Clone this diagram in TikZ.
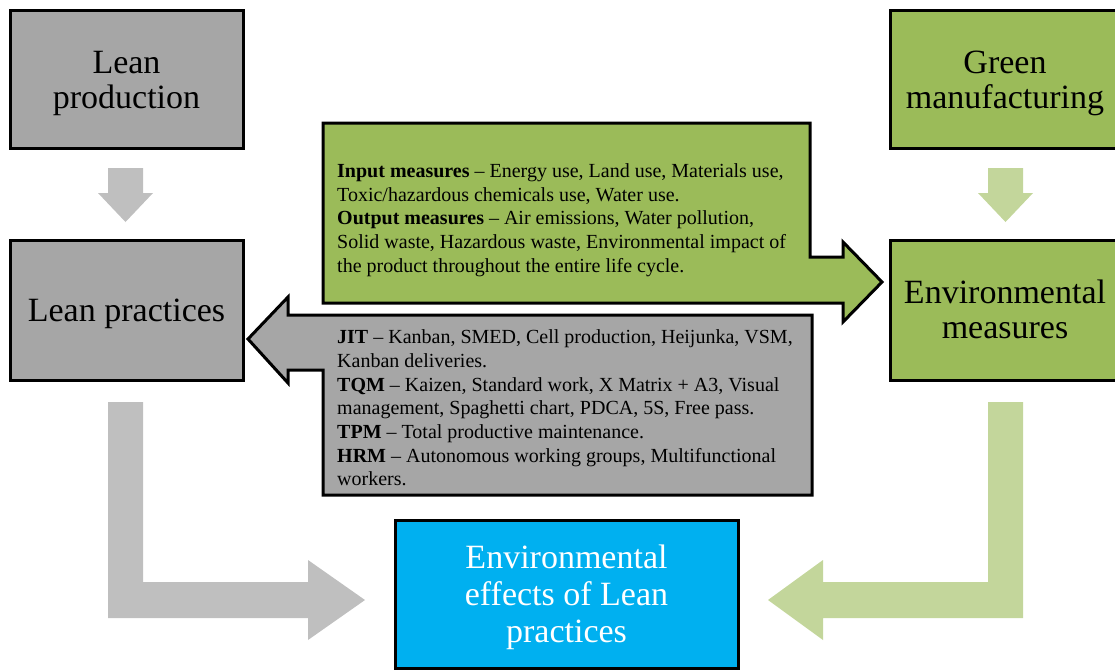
\documentclass[tikz,border=0pt]{standalone}
\usepackage{fontspec}
\setmainfont{Liberation Serif}
\definecolor{boxgray}{HTML}{A6A6A6}
\definecolor{boxgreen}{HTML}{9BBB59}
\definecolor{boxblue}{HTML}{00B0F0}
\definecolor{arrgray}{HTML}{BFBFBF}
\definecolor{arrgreen}{HTML}{C3D69B}
\begin{document}
\begin{tikzpicture}[x=1pt,y=-1pt,
  bigbox/.style={draw=black,line width=3pt,inner sep=0pt},
  boxtext/.style={align=center,inner sep=0pt,yshift=-4pt,
    font=\fontsize{34}{35}\selectfont},
  callout/.style={draw=black,line width=3pt,line join=miter},
  calltext/.style={inner sep=0pt,align=left,anchor=west,
    font=\fontsize{20}{23.7}\selectfont}]
\useasboundingbox (0,0) rectangle (1115,670);
% boxes
\node[bigbox,fill=boxgray,minimum width=233pt,minimum height=138pt,
  label={[boxtext]center:Lean\\production}] (lp) at (126.5,79) {};
\node[bigbox,fill=boxgreen,minimum width=230pt,minimum height=138pt,
  label={[boxtext]center:Green\\manufacturing}] (gm) at (1005,79) {};
\node[bigbox,fill=boxgray,minimum width=233pt,minimum height=140pt,
  label={[boxtext]center:Lean practices}] (lpr) at (126.5,310) {};
\node[bigbox,fill=boxgreen,minimum width=230pt,minimum height=140pt,
  label={[boxtext,yshift=4.5pt]center:Environmental\\measures}] (em) at (1005,310) {};
\node[bigbox,fill=boxblue,minimum width=343pt,minimum height=148pt,
  label={[boxtext,text=white,yshift=1pt,font=\fontsize{34}{37}\selectfont]center:Environmental\\effects of Lean\\practices}] (ee) at (566.5,594) {};
% small down arrows
\fill[arrgray] (108,168) -- (143,168) -- (143,193) -- (153,193) -- (125.5,222) -- (98,193) -- (108,193) -- cycle;
\fill[arrgreen] (988,168) -- (1023,168) -- (1023,193) -- (1033,193) -- (1005.5,222) -- (978,193) -- (988,193) -- cycle;
% big L arrows
\fill[arrgray] (108,402) -- (143,402) -- (143,582) -- (308,582) -- (308,560) -- (365,600) -- (308,640) -- (308,618) -- (108,618) -- cycle;
\fill[arrgreen] (1023,402) -- (988,402) -- (988,582) -- (823,582) -- (823,560) -- (768,600) -- (823,640) -- (823,618) -- (1023,618) -- cycle;
% callouts
\draw[callout,fill=boxgreen] (323,123) -- (810,123) -- (810,257) -- (843,257) -- (843,242) -- (882,282) -- (843,322) -- (843,303) -- (323,303) -- cycle;
\draw[callout,fill=boxgray] (323,315) -- (812,315) -- (812,495) -- (323,495) -- (323,370) -- (288,370) -- (288,383) -- (248,339) -- (288,297) -- (288,315) -- cycle;
\node[calltext] (gt) at (337,220) {\textbf{Input measures} -- Energy use, Land use, Materials use,\\
Toxic/hazardous chemicals use, Water use.\\
\textbf{Output measures} -- Air emissions, Water pollution,\\
Solid waste, Hazardous waste, Environmental impact of\\
the product throughout the entire life cycle.};
\node[calltext] (lt) at (337,408) {\textbf{JIT} -- Kanban, SMED, Cell production, Heijunka, VSM,\\
Kanban deliveries.\\
\textbf{TQM} -- Kaizen, Standard work, X Matrix + A3, Visual\\
management, Spaghetti chart, PDCA, 5S, Free pass.\\
\textbf{TPM} -- Total productive maintenance.\\
\textbf{HRM} -- Autonomous working groups, Multifunctional\\
workers.};
\end{tikzpicture}
\end{document}
